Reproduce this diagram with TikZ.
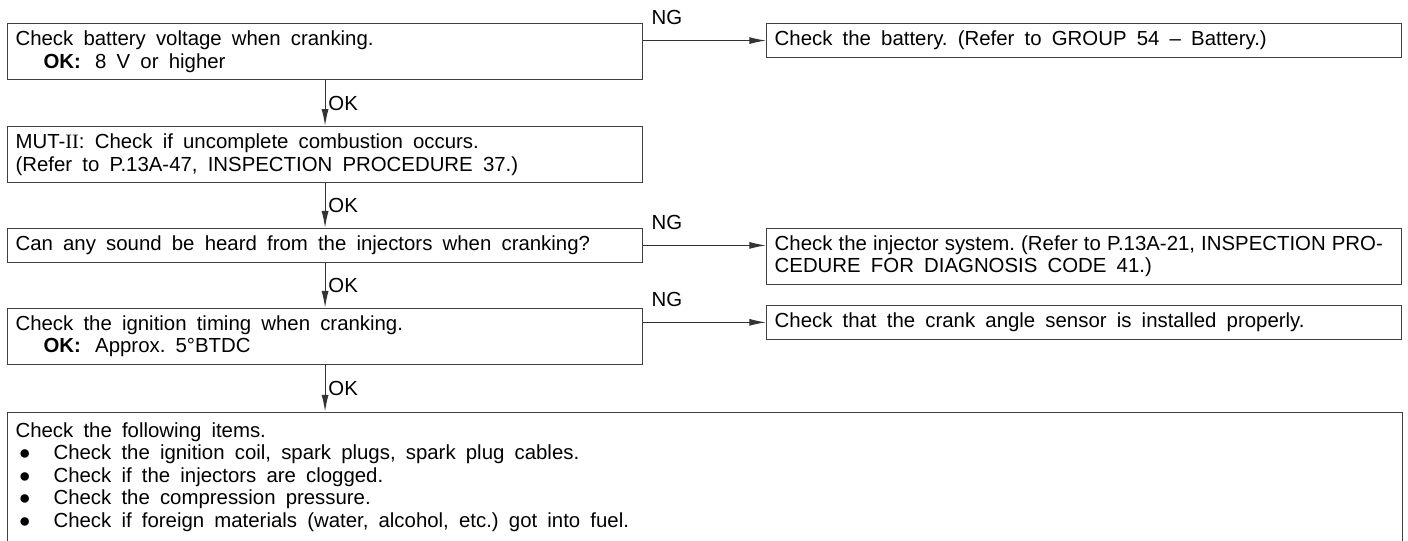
\documentclass[tikz,border=0pt]{standalone}
\usepackage{fontspec}
\setmainfont{Liberation Sans}
\newfontfamily\romfont{Liberation Serif}
\usetikzlibrary{positioning,arrows.meta}
\newcommand{\boxspacing}{\frenchspacing\setlength{\baselineskip}{16pt}\setlength{\spaceskip}{0.5em plus 0.1em minus 0.1em}}
\tikzset{
  check/.style={draw=black!75, line width=0.8pt, text width=15.475cm, inner xsep=0.2cm, inner ysep=2pt, align=left, minimum height=0.85cm, execute at begin node=\boxspacing},
  tall/.style={minimum height=1.4cm},
  items/.style={draw=black!75, line width=0.8pt, text width=34.475cm, inner xsep=0.2cm, inner ysep=0.25cm, align=left, text depth=3.5cm, execute at begin node=\boxspacing},
  ngtag/.style={anchor=base west, inner sep=0pt, xshift=0.2cm, yshift=0.4cm},
  oktag/.style={right, inner sep=2pt},
}
\newcommand{\punto}{\makebox[0.95cm][l]{\hspace{0.08cm}{\fontsize{14}{14}\selectfont ●}}}

\begin{document}
\begin{tikzpicture}[font=\fontsize{14.5}{16}\selectfont,
        flow/.style={draw=black!80, line width=0.8pt, -{Latex[length=12pt,width=5pt]}}]
  \useasboundingbox (0,0) rectangle (35.2,-13.5);
  % main column
  \node[check, tall, anchor=north west] (b1) at (0.175,-0.575)
    {Check battery voltage when cranking.\\ \hspace*{0.7cm}\textbf{OK:}\hspace{0.7em}8 V or higher};
  \node[check, tall, below=1.145cm of b1] (b2)
    {MUT-{\romfont II}: Check if uncomplete combustion occurs.\\(Refer to P.13A-47, INSPECTION PROCEDURE 37.)};
  \node[check, below=1.12cm of b2] (b3)
    {Can any sound be heard from the injectors when cranking?};
  \node[check, tall, below=1.12cm of b3] (b4)
    {Check the ignition timing when cranking.\\ \hspace*{0.7cm}\textbf{OK:}\hspace{0.7em}Approx. 5°BTDC};
  \node[items, below=1.17cm of b4.south west, anchor=north west] (b5)
    {Check the following items.\\
     \punto Check the ignition coil, spark plugs, spark plug cables.\\
     \punto Check if the injectors are clogged.\\
     \punto Check the compression pressure.\\
     \punto Check if foreign materials (water, alcohol, etc.) got into fuel.};
  % NG side
  \node[check, right=3.075cm of b1.north east, anchor=north west] (r1)
    {Check the battery. (Refer to GROUP 54 \textendash\ Battery.)};
  \node[check, tall, right=3.075cm of b3.north east, anchor=north west] (r2)
    {{\setlength{\spaceskip}{0.3em}Check the injector system. (Refer to P.13A-21, INSPECTION PRO-}\\CEDURE FOR DIAGNOSIS CODE 41.)};
  \node[check, right=3.075cm of b4.north east, anchor=north west, yshift=0.075cm] (r3)
    {Check that the crank angle sensor is installed properly.};
  % connectors
  \draw[flow] (b1) -- node[oktag]{OK} (b2);
  \draw[flow] (b2) -- node[oktag]{OK} (b3);
  \draw[flow] (b3) -- node[oktag]{OK} (b4);
  \draw[flow] (b4) -- node[oktag]{OK} (b4 |- b5.north);
  \draw[flow] (b1.east |- r1.west) node[ngtag]{NG} -- (r1.west);
  \draw[flow] (b3.east) node[ngtag]{NG} -- (b3.east -| r2.west);
  \draw[flow] (b4.east |- r3.west) node[ngtag]{NG} -- (r3.west);
\end{tikzpicture}
\end{document}
